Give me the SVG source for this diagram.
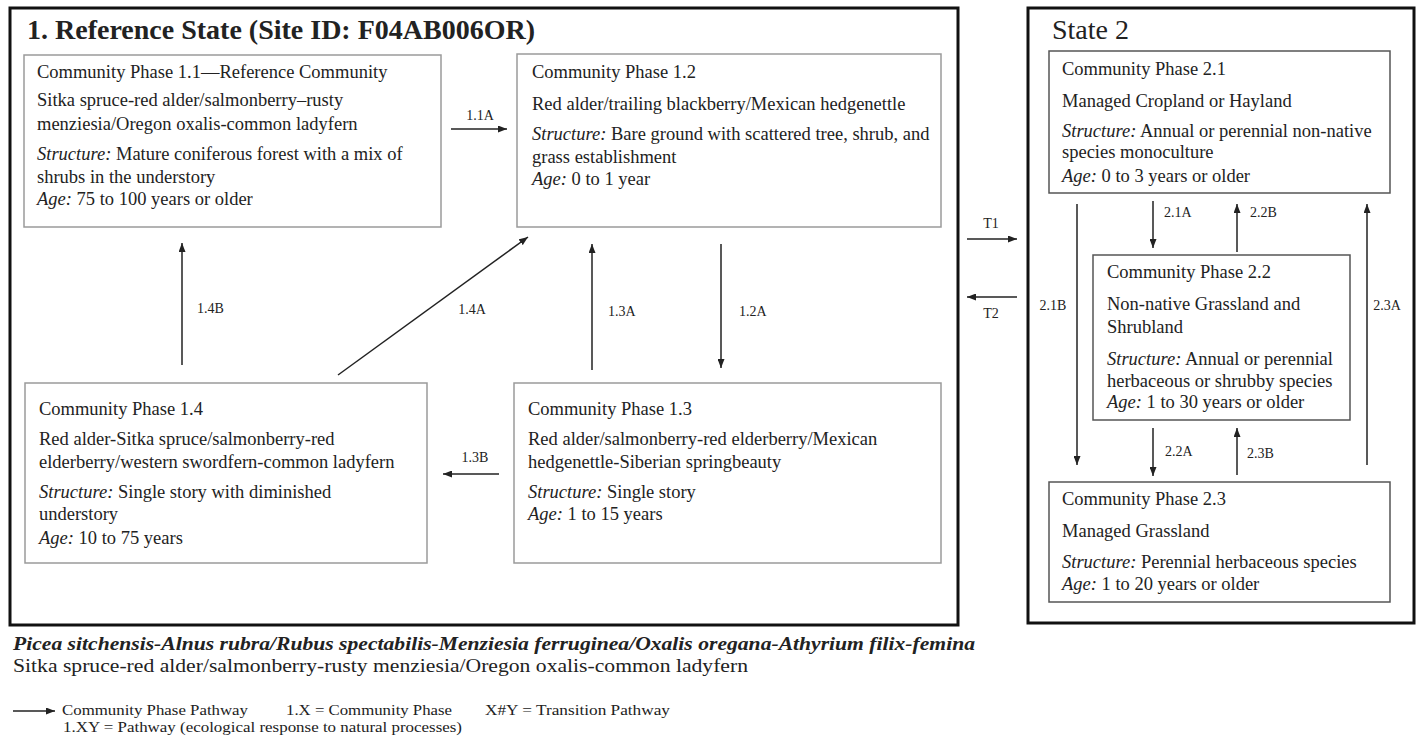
<svg xmlns="http://www.w3.org/2000/svg" width="1418" height="742" viewBox="0 0 1418 742">
<style>
text{font-family:"Liberation Serif","Times New Roman",serif;fill:#222}
.t{font-size:18.5px}
.lab{font-size:14px}
.h{font-size:28px}
.box1{fill:#fff;stroke:#9a9a9a;stroke-width:1.5}
.box2{fill:#fff;stroke:#555;stroke-width:1.5}
.state{fill:none;stroke:#111;stroke-width:3}
.c{stroke:#222;stroke-width:1.5;fill:none;marker-end:url(#ah)}
.i{font-style:italic}
.lg{font-size:15px}
</style>
<defs>
<marker id="ah" markerUnits="userSpaceOnUse" markerWidth="9" markerHeight="7" refX="9" refY="3.5" orient="auto">
<path d="M0,0 L9,3.5 L0,7 z" fill="#222"/>
</marker>
</defs>
<rect width="1418" height="742" fill="#fff"/>

<g id="state1">
<rect class="state" x="10" y="8" width="948" height="617"/>
<text class="h" x="27" y="39" font-weight="bold">1. Reference State (Site ID: F04AB006OR)</text>
</g>
<g id="state2">
<rect class="state" x="1028" y="8" width="386" height="615"/>
<text class="h" x="1052" y="39">State 2</text>
</g>

<g id="phase1-1">
<rect class="box1" x="24" y="55" width="417" height="172"/>
<text class="t" x="37" y="78">Community Phase 1.1—Reference Community</text>
<text class="t" x="37" y="106">Sitka spruce-red alder/salmonberry–rusty</text>
<text class="t" x="37" y="130">menziesia/Oregon oxalis-common ladyfern</text>
<text class="t" x="37" y="160"><tspan class="i">Structure:</tspan> Mature coniferous forest with a mix of</text>
<text class="t" x="37" y="183">shrubs in the understory</text>
<text class="t" x="37" y="205"><tspan class="i">Age:</tspan> 75 to 100 years or older</text>
</g>

<g id="phase1-2">
<rect class="box1" x="517" y="54" width="424" height="173"/>
<text class="t" x="532" y="78">Community Phase 1.2</text>
<text class="t" x="532" y="110">Red alder/trailing blackberry/Mexican hedgenettle</text>
<text class="t" x="532" y="140"><tspan class="i">Structure:</tspan> Bare ground with scattered tree, shrub, and</text>
<text class="t" x="532" y="163">grass establishment</text>
<text class="t" x="532" y="185"><tspan class="i">Age:</tspan> 0 to 1 year</text>
</g>

<g id="phase1-4">
<rect class="box1" x="25" y="383" width="402" height="180"/>
<text class="t" x="39" y="415">Community Phase 1.4</text>
<text class="t" x="39" y="445">Red alder-Sitka spruce/salmonberry-red</text>
<text class="t" x="39" y="468">elderberry/western swordfern-common ladyfern</text>
<text class="t" x="39" y="498"><tspan class="i">Structure:</tspan> Single story with diminished</text>
<text class="t" x="39" y="520">understory</text>
<text class="t" x="39" y="544"><tspan class="i">Age:</tspan> 10 to 75 years</text>
</g>

<g id="phase1-3">
<rect class="box1" x="514" y="383" width="427" height="180"/>
<text class="t" x="528" y="415">Community Phase 1.3</text>
<text class="t" x="528" y="445">Red alder/salmonberry-red elderberry/Mexican</text>
<text class="t" x="528" y="468">hedgenettle-Siberian springbeauty</text>
<text class="t" x="528" y="498"><tspan class="i">Structure:</tspan> Single story</text>
<text class="t" x="528" y="520"><tspan class="i">Age:</tspan> 1 to 15 years</text>
</g>

<g id="phase2-1">
<rect class="box2" x="1049" y="51" width="341" height="142"/>
<text class="t" x="1062" y="75">Community Phase 2.1</text>
<text class="t" x="1062" y="107">Managed Cropland or Hayland</text>
<text class="t" x="1062" y="137"><tspan class="i">Structure:</tspan> Annual or perennial non-native</text>
<text class="t" x="1062" y="158">species monoculture</text>
<text class="t" x="1062" y="182"><tspan class="i">Age:</tspan> 0 to 3 years or older</text>
</g>

<g id="phase2-2">
<rect class="box2" x="1093" y="255" width="257" height="165"/>
<text class="t" x="1107" y="278">Community Phase 2.2</text>
<text class="t" x="1107" y="310">Non-native Grassland and</text>
<text class="t" x="1107" y="333">Shrubland</text>
<text class="t" x="1107" y="365"><tspan class="i">Structure:</tspan> Annual or perennial</text>
<text class="t" x="1107" y="387">herbaceous or shrubby species</text>
<text class="t" x="1107" y="408"><tspan class="i">Age:</tspan> 1 to 30 years or older</text>
</g>

<g id="phase2-3">
<rect class="box2" x="1049" y="482" width="341" height="120"/>
<text class="t" x="1062" y="505">Community Phase 2.3</text>
<text class="t" x="1062" y="537">Managed Grassland</text>
<text class="t" x="1062" y="568"><tspan class="i">Structure:</tspan> Perennial herbaceous species</text>
<text class="t" x="1062" y="590"><tspan class="i">Age:</tspan> 1 to 20 years or older</text>
</g>

<g id="connectors">
<line class="c" x1="451" y1="129" x2="507" y2="129"/>
<line class="c" x1="182" y1="365" x2="182" y2="243"/>
<line class="c" x1="338" y1="375" x2="528" y2="237"/>
<line class="c" x1="592" y1="370" x2="592" y2="244"/>
<line class="c" x1="721" y1="244" x2="721" y2="368"/>
<line class="c" x1="499" y1="474" x2="443" y2="474"/>
<line class="c" x1="967" y1="239" x2="1017" y2="239"/>
<line class="c" x1="1017" y1="297" x2="967" y2="297"/>
<line class="c" x1="1153" y1="201" x2="1153" y2="248"/>
<line class="c" x1="1237" y1="252" x2="1237" y2="204"/>
<line class="c" x1="1077" y1="204" x2="1077" y2="465"/>
<line class="c" x1="1367" y1="465" x2="1367" y2="204"/>
<line class="c" x1="1153" y1="428" x2="1153" y2="476"/>
<line class="c" x1="1237" y1="475" x2="1237" y2="428"/>
<text class="lab" x="480" y="120" text-anchor="middle">1.1A</text>
<text class="lab" x="197" y="313">1.4B</text>
<text class="lab" x="472" y="314" text-anchor="middle">1.4A</text>
<text class="lab" x="608" y="316">1.3A</text>
<text class="lab" x="739" y="316">1.2A</text>
<text class="lab" x="475" y="462" text-anchor="middle">1.3B</text>
<text class="lab" x="991" y="228" text-anchor="middle">T1</text>
<text class="lab" x="991" y="318" text-anchor="middle">T2</text>
<text class="lab" x="1164" y="217">2.1A</text>
<text class="lab" x="1250" y="217">2.2B</text>
<text class="lab" x="1053" y="310" text-anchor="middle">2.1B</text>
<text class="lab" x="1387" y="310" text-anchor="middle">2.3A</text>
<text class="lab" x="1165" y="456">2.2A</text>
<text class="lab" x="1247" y="458">2.3B</text>
</g>

<g id="caption">
<text x="13" y="650" font-size="19px" font-weight="bold" font-style="italic" textLength="962" lengthAdjust="spacingAndGlyphs">Picea sitchensis-Alnus rubra/Rubus spectabilis-Menziesia ferruginea/Oxalis oregana-Athyrium filix-femina</text>
<text x="13" y="672" font-size="19px" textLength="735" lengthAdjust="spacingAndGlyphs">Sitka spruce-red alder/salmonberry-rusty menziesia/Oregon oxalis-common ladyfern</text>
</g>

<g id="legend">
<line class="c" x1="13" y1="711" x2="55" y2="711"/>
<text class="lg" x="62" y="715" textLength="186" lengthAdjust="spacingAndGlyphs">Community Phase Pathway</text>
<text class="lg" x="286" y="715" textLength="166" lengthAdjust="spacingAndGlyphs">1.X = Community Phase</text>
<text class="lg" x="485" y="715" textLength="185" lengthAdjust="spacingAndGlyphs">X#Y = Transition Pathway</text>
<text class="lg" x="63" y="732" textLength="399" lengthAdjust="spacingAndGlyphs">1.XY = Pathway (ecological response to natural processes)</text>
</g>
</svg>
